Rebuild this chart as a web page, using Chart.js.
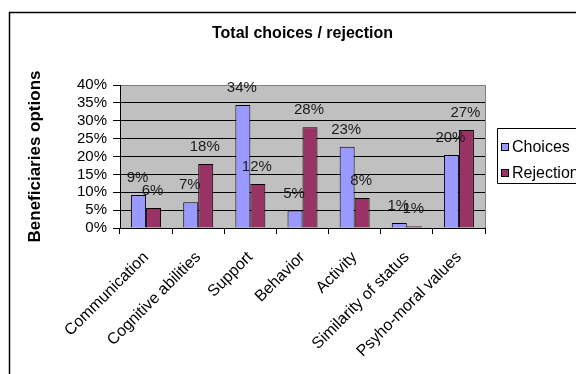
<!DOCTYPE html>
<html>
<head>
<meta charset="utf-8">
<title>Total choices / rejection</title>
<script src="https://cdn.jsdelivr.net/npm/chart.js@4/dist/chart.umd.min.js"></script>
<style>
	html, body { margin: 0; padding: 0; background: #fff; overflow: hidden; }
	#wrap { width: 576px; height: 374px; overflow: hidden; }
</style>
</head>
<body>
<div id="wrap"><canvas id="choicesChart" width="576" height="374"></canvas></div>
<script>
	//data (percent)
	var categories = ["Communication", "Cognitive abilities", "Support", "Behavior", "Activity", "Similarity of status", "Psyho-moral values"];
	var choicesValues = [9.2, 7.2, 34.4, 4.9, 22.7, 1.4, 20.4];
	var rejectionValues = [5.6, 17.9, 12.3, 28.2, 8.4, 0.5, 27.4];
	var yTicks = [0, 5, 10, 15, 20, 25, 30, 35, 40];

	var FONT = "'Liberation Sans', Arial, sans-serif";

	//gray plot area + outer frame, drawn before the grid
	var backgroundPlugin = {
		id: "excelBackground",
		beforeDraw: function (chart) {
			var ctx = chart.ctx;
			var area = chart.chartArea;
			ctx.save();
			ctx.fillStyle = "#ffffff";
			ctx.fillRect(0, 0, chart.width, chart.height);
			ctx.strokeStyle = "#000000";
			ctx.lineWidth = 1.5;
			ctx.strokeRect(9.5, 12.5, chart.width + 20, chart.height + 20);
			ctx.fillStyle = "#c0c0c0";
			ctx.fillRect(area.left, area.top, area.right - area.left, area.bottom - area.top);
			ctx.restore();
		},
		afterDraw: function (chart) {
			var ctx = chart.ctx;
			var area = chart.chartArea;
			ctx.save();
			ctx.strokeStyle = "#808080";
			ctx.lineWidth = 1;
			ctx.beginPath();
			ctx.moveTo(Math.round(area.right) + 0.5, area.top);
			ctx.lineTo(Math.round(area.right) + 0.5, area.bottom);
			ctx.stroke();
			ctx.restore();
		}
	};

	//value labels above every bar
	var barLabelPlugin = {
		id: "barLabels",
		afterDatasetsDraw: function (chart) {
			var ctx = chart.ctx;
			ctx.save();
			ctx.font = "15px " + FONT;
			ctx.fillStyle = "#1a1a1a";
			ctx.textAlign = "center";
			ctx.textBaseline = "middle";
			chart.data.datasets.forEach(function (ds, i) {
				var meta = chart.getDatasetMeta(i);
				meta.data.forEach(function (bar, j) {
					ctx.fillText(Math.round(ds.data[j]) + "%", bar.x - 1, bar.y - 17);
				});
			});
			ctx.restore();
		}
	};

	//boxed legend on the right, cut by the page edge like the original
	var legendPlugin = {
		id: "boxLegend",
		afterDraw: function (chart) {
			var ctx = chart.ctx;
			var rowY = [147, 173];
			ctx.save();
			ctx.strokeStyle = "#000000";
			ctx.lineWidth = 1;
			ctx.beginPath();
			ctx.moveTo(chart.width + 5, 128.5);
			ctx.lineTo(497.5, 128.5);
			ctx.lineTo(497.5, 183.5);
			ctx.lineTo(chart.width + 5, 183.5);
			ctx.stroke();
			ctx.font = "16px " + FONT;
			ctx.textBaseline = "middle";
			ctx.textAlign = "left";
			chart.data.datasets.forEach(function (ds, i) {
				ctx.fillStyle = ds.backgroundColor;
				ctx.fillRect(501, rowY[i] - 4, 8, 8);
				ctx.strokeRect(501.5, rowY[i] - 3.5, 7, 7);
				ctx.fillStyle = "#000000";
				ctx.fillText(ds.label, 512, rowY[i] + 1);
			});
			ctx.restore();
		}
	};

	var ctx = document.getElementById("choicesChart");
	var data = {
		labels: categories,
		datasets: [
			{
				label: "Choices",
				data: choicesValues,
				backgroundColor: "#9999ff",
				borderColor: "#000000",
				borderWidth: 1,
				categoryPercentage: 0.575,
				barPercentage: 1
			},
			{
				label: "Rejection",
				data: rejectionValues,
				backgroundColor: "#993366",
				borderColor: "#000000",
				borderWidth: 1,
				categoryPercentage: 0.575,
				barPercentage: 1
			}
		]
	};

	var options = {
		responsive: false,
		animation: false,
		layout: { padding: { left: 20, right: 91, top: 0, bottom: 0 } },
		plugins: {
			legend: { display: false },
			tooltip: { enabled: false },
			title: {
				display: true,
				text: "Total choices / rejection",
				fullSize: false,
				color: "#000000",
				font: { family: FONT, size: 16, weight: "bold" },
				padding: { top: 24, bottom: 41.8 }
			}
		},
		scales: {
			x: {
				grid: { display: true, drawOnChartArea: false, drawTicks: true, tickLength: 6, color: "#000000", offset: true },
				border: { display: true, color: "#000000" },
				ticks: {
					autoSkip: false,
					maxRotation: 45,
					minRotation: 45,
					padding: 14,
					color: "#000000",
					font: { family: FONT, size: 16 }
				},
				afterFit: function (scale) { scale.height = 146; }
			},
			y: {
				min: 0,
				max: 40,
				afterBuildTicks: function (scale) {
					scale.ticks = yTicks.map(function (v) { return { value: v }; });
				},
				grid: {
					color: function (c) { return c.tick && c.tick.value === 40 ? "#808080" : "#000000"; },
					tickColor: "#000000",
					tickLength: 7,
					lineWidth: 1
				},
				border: { display: true, color: "#000000" },
				ticks: {
					autoSkip: false,
					padding: 6,
					color: "#000000",
					font: { family: FONT, size: 15 },
					callback: function (v) { return v + "%"; }
				},
				title: {
					display: true,
					text: "Beneficiaries options",
					color: "#000000",
					font: { family: FONT, size: 17, weight: "bold" },
					padding: { top: 5, bottom: 0 }
				},
				afterFit: function (scale) { scale.width = 100; }
			}
		}
	};

	var choicesChart = new Chart(ctx, {
		type: "bar",
		data: data,
		options: options,
		plugins: [backgroundPlugin, barLabelPlugin, legendPlugin]
	});
</script>
</body>
</html>
